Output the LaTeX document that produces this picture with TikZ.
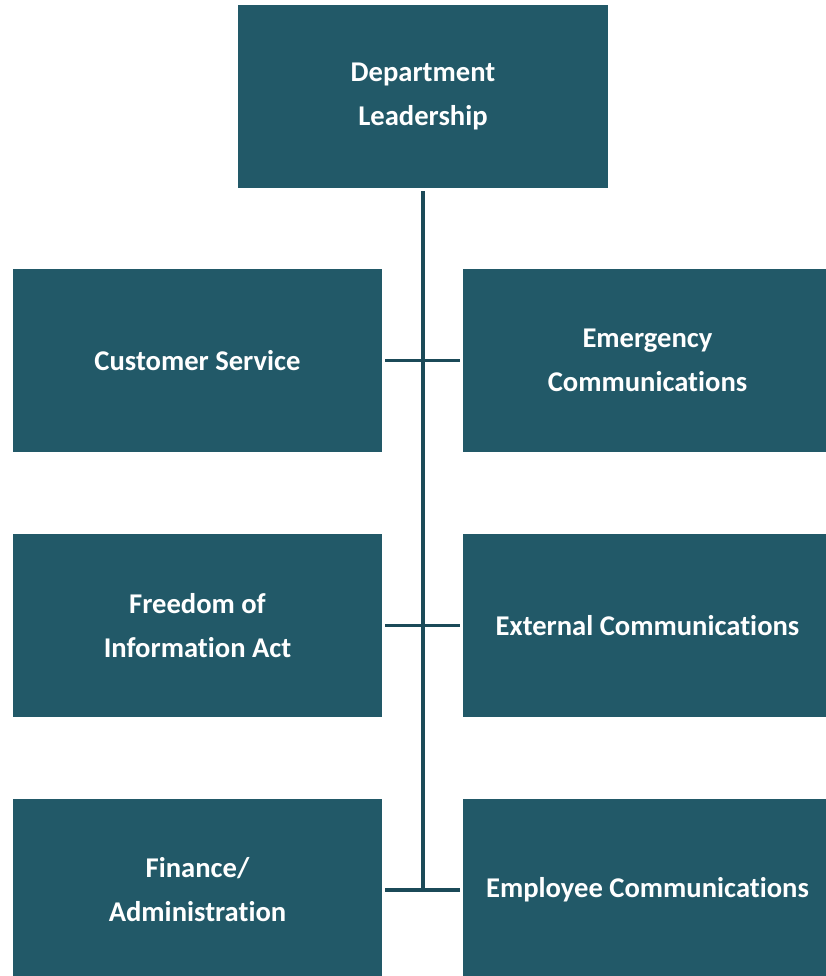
\documentclass[tikz,border=0pt]{standalone}
\usepackage{fontspec}
\setmainfont{Carlito}[Ligatures=NoCommon]
\usepackage{xcolor}
\usepackage{tikz}
\usetikzlibrary{positioning}
\definecolor{unitteal}{RGB}{34, 89, 104}
\definecolor{linkteal}{RGB}{27, 74, 88}

\begin{document}
\begin{tikzpicture}[x=1pt, y=-1pt,
        unit/.style={fill=unitteal, draw=none, text=white, align=center,
            minimum width=369pt, minimum height=183pt, inner sep=0pt,
            font=\fontsize{28.6}{44}\selectfont\bfseries},
        link/.style={draw=linkteal, line width=3.2pt}]
        \useasboundingbox (0,0) rectangle (826,976);

        \node[unit, minimum width=370pt] (lead) at (423,96.5) {Department\\Leadership};

        \node[unit] (cust) at (197.5,360.5) {Customer Service};
        \node[unit] (emerg) at (647.5,360.5) {Emergency\\Communications};
        \node[unit] (foia) at (197.5,625.5) {Freedom of\\Information Act};
        \node[unit] (ext) at (647.5,625.5) {External Communications};
        \node[unit] (fin) at (197.5,890) {Finance/\\Administration};
        \node[unit] (emp) at (647.5,890) {Employee Communications};

        % spine and branches
        \coordinate (spine) at ([yshift=-3pt]lead.south);
        \coordinate (hub3) at (spine |- fin.east);
        \draw[link] (spine) -- (hub3);
        \draw[link] ([xshift=3pt]cust.east) -- ([xshift=-3pt]emerg.west);
        \draw[link] ([xshift=3pt]foia.east) -- ([xshift=-3pt]ext.west);
        \draw[link] ([xshift=3pt]fin.east) -- ([xshift=-3pt]emp.west);
    \end{tikzpicture}
\end{document}
